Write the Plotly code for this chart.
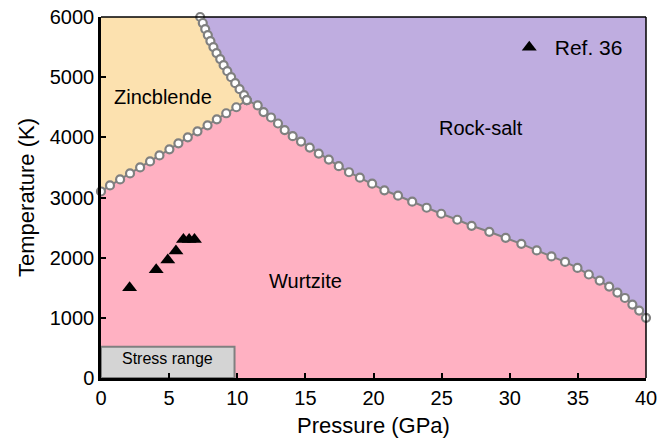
import plotly.graph_objects as go

# ---- data ----
# Wurtzite / Zincblende boundary
wz_zb_P = [0.0, 0.66, 1.40, 2.13, 2.87, 3.60, 4.29, 5.02, 5.68, 6.37, 7.08, 7.82, 8.50, 9.19, 9.93, 10.70]
wz_zb_T = [3100, 3200, 3300, 3400, 3500, 3600, 3700, 3800, 3900, 4000, 4100, 4200, 4300, 4400, 4500, 4620]

# Zincblende / Rock-salt boundary (top to triple point)
zb_rs_P = [7.28, 7.47, 7.65, 7.84, 8.03, 8.25, 8.48, 8.75, 9.00, 9.27, 9.55, 9.85, 10.17, 10.50, 10.70]
zb_rs_T = [6000, 5900, 5800, 5700, 5600, 5500, 5400, 5300, 5200, 5100, 5000, 4900, 4800, 4700, 4620]

# Wurtzite / Rock-salt boundary (triple point to 40 GPa)
wz_rs_P = [10.70, 11.50, 11.93, 12.48, 12.99, 13.48, 14.07, 14.68, 15.32, 15.98, 16.72, 17.45,
           18.20, 19.00, 19.90, 20.80, 21.80, 22.84, 23.90, 24.97, 26.15, 27.20, 28.50, 29.70,
           30.85, 31.98, 33.06, 34.06, 34.97, 35.80, 36.60, 37.30, 37.90, 38.45, 39.00, 39.50, 40.00]
wz_rs_T = [4620, 4530, 4420, 4330, 4230, 4120, 4020, 3930, 3830, 3730, 3630, 3520,
           3420, 3330, 3230, 3120, 3030, 2930, 2830, 2730, 2630, 2530, 2430, 2330,
           2230, 2120, 2020, 1930, 1830, 1720, 1620, 1520, 1420, 1330, 1220, 1120, 1000]

# Ref. 36 experimental points
ref_P = [2.1, 4.05, 4.9, 5.5, 6.05, 6.47, 6.86]
ref_T = [1500, 1800, 1960, 2110, 2300, 2300, 2300]

# Stress range box extent
stress_P = [0.0, 9.8]
stress_T = [0, 520]

# Axis extents
x_range = [0, 40]
y_range = [0, 6000]
x_ticks = [0, 5, 10, 15, 20, 25, 30, 35, 40]
y_ticks = [0, 1000, 2000, 3000, 4000, 5000, 6000]

# Region labels
region_names = ["Zincblende", "Rock-salt", "Wurtzite"]
region_P = [4.57, 27.9, 15.0]
region_T = [4668, 4153, 1611]

# ---- colours ----
C_RS = "#BFADE0"
C_ZB = "#FCE1AF"
C_WZ = "#FFB1C2"
C_LINE = "#808080"

fig = go.Figure()

x0, x1 = x_range
y0, y1 = y_range

# Rock-salt region (purple)
rs_x = zb_rs_P + wz_rs_P[1:] + [x1, x1] + [zb_rs_P[0]]
rs_y = zb_rs_T + wz_rs_T[1:] + [y1, y1] + [zb_rs_T[0]]
fig.add_trace(go.Scatter(x=rs_x, y=rs_y, fill="toself", fillcolor=C_RS, mode="none",
                         showlegend=False, hoverinfo="skip"))

# Zincblende region (peach)
zb_x = [x0] + wz_zb_P + zb_rs_P[::-1][1:] + [x0]
zb_y = [y1] + wz_zb_T + zb_rs_T[::-1][1:] + [y1]
fig.add_trace(go.Scatter(x=zb_x, y=zb_y, fill="toself", fillcolor=C_ZB, mode="none",
                         showlegend=False, hoverinfo="skip"))

# Wurtzite region (pink)
wz_x = [x0] + wz_zb_P + wz_rs_P[1:] + [x1, x0]
wz_y = [y0] + wz_zb_T + wz_rs_T[1:] + [y0, y0]
fig.add_trace(go.Scatter(x=wz_x, y=wz_y, fill="toself", fillcolor=C_WZ, mode="none",
                         showlegend=False, hoverinfo="skip"))

# Boundaries
for px, ty in [(wz_zb_P, wz_zb_T), (zb_rs_P, zb_rs_T), (wz_rs_P, wz_rs_T)]:
    fig.add_trace(go.Scatter(
        x=px, y=ty, mode="lines+markers",
        line=dict(color=C_LINE, width=2),
        marker=dict(symbol="circle", size=8, color="white", line=dict(color=C_LINE, width=2.2)),
        showlegend=False, hoverinfo="skip", cliponaxis=False))

# Stress range box
sx = [stress_P[0], stress_P[1], stress_P[1], stress_P[0], stress_P[0]]
sy = [stress_T[0], stress_T[0], stress_T[1], stress_T[1], stress_T[0]]
fig.add_trace(go.Scatter(x=sx, y=sy, fill="toself", fillcolor="#D4D4D4", mode="lines",
                         line=dict(color=C_LINE, width=2), showlegend=False, hoverinfo="skip"))

# Ref. 36 points
fig.add_trace(go.Scatter(x=ref_P, y=ref_T, mode="markers", name="Ref. 36",
                         marker=dict(symbol="triangle-up", size=13, color="black"),
                         showlegend=True))

# Region labels
for name, px, ty in zip(region_names, region_P, region_T):
    fig.add_annotation(x=px, y=ty, text=name, showarrow=False,
                       font=dict(size=20, color="black"))
fig.add_annotation(x=(stress_P[0] + stress_P[1]) / 2, y=stress_T[1] * 0.62,
                   text="Stress range", showarrow=False, font=dict(size=16, color="black"))

# Frame top and right (thin)
fig.add_shape(type="line", xref="x domain", yref="y domain", x0=0, x1=1, y0=1, y1=1,
              line=dict(color="black", width=1.5))
fig.add_shape(type="line", xref="x domain", yref="y domain", x0=1, x1=1, y0=0, y1=1,
              line=dict(color="black", width=1.5))

font_family = "Liberation Sans, Arial, sans-serif"
fig.update_layout(
    width=668, height=439,
    margin=dict(l=101, r=22, t=17, b=61),
    paper_bgcolor="white", plot_bgcolor="white",
    font=dict(family=font_family, size=18, color="black"),
    showlegend=True,
    legend=dict(x=0.739, y=0.972, xanchor="left", yanchor="top", itemwidth=41,
                bgcolor="rgba(0,0,0,0)", font=dict(size=21), itemsizing="trace"),
    xaxis=dict(range=x_range, tickvals=x_ticks, ticks="inside", ticklen=5, tickwidth=2,
               tickcolor="black", showline=True, linewidth=2.5, linecolor="black",
               showgrid=False, zeroline=False, automargin=False,
               title=dict(text="Pressure (GPa)", standoff=10),
               tickfont=dict(size=20)),
    yaxis=dict(range=y_range, tickvals=y_ticks, ticks="inside", ticklen=5, tickwidth=2,
               tickcolor="black", showline=True, linewidth=2.5, linecolor="black",
               showgrid=False, zeroline=False, automargin=False,
               title=dict(text="Temperature (K)", standoff=10),
               tickfont=dict(size=20)),
)

fig.write_html("out.html", config={"displayModeBar": False},
               post_script="document.body.style.margin='0px';document.body.style.overflow='hidden';")
